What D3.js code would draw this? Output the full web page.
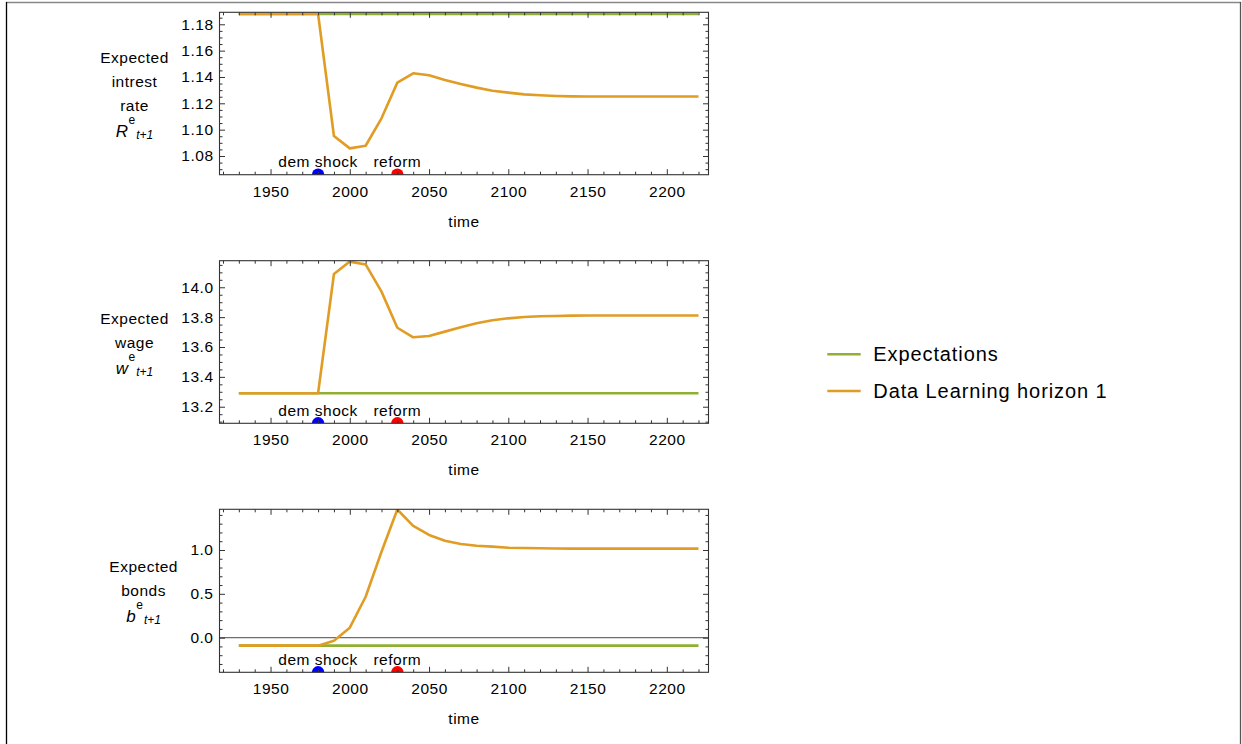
<!DOCTYPE html>
<html>
<head>
<meta charset="utf-8">
<script src="https://cdn.jsdelivr.net/npm/d3@7"></script>
<style>
  html, body { margin: 0; padding: 0; background: #fff; }
  svg { display: block; }
  text { font-family: "Liberation Sans", Arial, sans-serif; fill: #000; }
</style>
</head>
<body>
<script>
// Simulation periods (every 10 years)
const years = [1930, 1940, 1950, 1960, 1970, 1980, 1990, 2000, 2010, 2020,
               2030, 2040, 2050, 2060, 2070, 2080, 2090, 2100, 2110, 2120,
               2130, 2140, 2150, 2160, 2170, 2180, 2190, 2200, 2210, 2220];

// Expected interest rate R^e_{t+1}
const rateExpectations = [1.1878, 1.1878, 1.1878, 1.1878, 1.1878, 1.1878, 1.1878, 1.1878, 1.1878, 1.1878,
                          1.1878, 1.1878, 1.1878, 1.1878, 1.1878, 1.1878, 1.1878, 1.1878, 1.1878, 1.1878,
                          1.1878, 1.1878, 1.1878, 1.1878, 1.1878, 1.1878, 1.1878, 1.1878, 1.1878, 1.1878];
const rateLearning = [1.1878, 1.1878, 1.1878, 1.1878, 1.1878, 1.1878, 1.0952, 1.0858, 1.0878, 1.1086,
                      1.1357, 1.1428, 1.1413, 1.1377, 1.1347, 1.1319, 1.1296, 1.1281, 1.1268, 1.1261,
                      1.1256, 1.1253, 1.1252, 1.1252, 1.1252, 1.1252, 1.1252, 1.1252, 1.1252, 1.1252];

// Expected wage w^e_{t+1}
const wageExpectations = [13.29, 13.29, 13.29, 13.29, 13.29, 13.29, 13.29, 13.29, 13.29, 13.29,
                          13.29, 13.29, 13.29, 13.29, 13.29, 13.29, 13.29, 13.29, 13.29, 13.29,
                          13.29, 13.29, 13.29, 13.29, 13.29, 13.29, 13.29, 13.29, 13.29, 13.29];
const wageLearning = [13.29, 13.29, 13.29, 13.29, 13.29, 13.29, 14.089, 14.172, 14.153, 13.971,
                      13.729, 13.665, 13.674, 13.703, 13.732, 13.759, 13.779, 13.792, 13.801, 13.806,
                      13.808, 13.810, 13.811, 13.811, 13.811, 13.811, 13.811, 13.811, 13.811, 13.811];

// Expected bonds b^e_{t+1}
const bondsExpectations = [-0.091, -0.091, -0.091, -0.091, -0.091, -0.091, -0.091, -0.091, -0.091, -0.091,
                           -0.091, -0.091, -0.091, -0.091, -0.091, -0.091, -0.091, -0.091, -0.091, -0.091,
                           -0.091, -0.091, -0.091, -0.091, -0.091, -0.091, -0.091, -0.091, -0.091, -0.091];
const bondsLearning = [-0.091, -0.091, -0.091, -0.091, -0.091, -0.091, -0.034, 0.114, 0.467, 0.980,
                       1.462, 1.274, 1.171, 1.106, 1.068, 1.049, 1.038, 1.026, 1.022, 1.019,
                       1.017, 1.016, 1.015, 1.015, 1.015, 1.015, 1.015, 1.015, 1.015, 1.015];

// Time axis ticks
const xMajorTicks = [1950, 2000, 2050, 2100, 2150, 2200];
const xTickLabels = ["1950", "2000", "2050", "2100", "2150", "2200"];
const xMinorTicks = [1920, 1930, 1940, 1960, 1970, 1980, 1990, 2010, 2020, 2030, 2040,
                     2060, 2070, 2080, 2090, 2110, 2120, 2130, 2140, 2160, 2170, 2180, 2190, 2210, 2220];

// Value axis ticks per panel
const rateTicks = [1.08, 1.10, 1.12, 1.14, 1.16, 1.18];
const rateTickLabels = ["1.08", "1.10", "1.12", "1.14", "1.16", "1.18"];
const rateMinorTicks = [1.07, 1.075, 1.085, 1.09, 1.095, 1.105, 1.11, 1.115, 1.125, 1.13, 1.135,
                        1.145, 1.15, 1.155, 1.165, 1.17, 1.175, 1.185];
const wageTicks = [13.2, 13.4, 13.6, 13.8, 14.0];
const wageTickLabels = ["13.2", "13.4", "13.6", "13.8", "14.0"];
const wageMinorTicks = [13.1, 13.15, 13.25, 13.3, 13.35, 13.45, 13.5, 13.55, 13.65, 13.7, 13.75,
                        13.85, 13.9, 13.95, 14.05, 14.1, 14.15];
const bondsTicks = [0.0, 0.5, 1.0];
const bondsTickLabels = ["0.0", "0.5", "1.0"];
const bondsMinorTicks = [-0.3, -0.2, -0.1, 0.1, 0.2, 0.3, 0.4, 0.6, 0.7, 0.8, 0.9, 1.1, 1.2, 1.3, 1.4];

// Event markers
const eventYears = [1980, 2030];
const eventNames = ["dem shock", "reform"];
const eventColors = ["#0000ff", "#ff0000"];

// Legend
const seriesNames = ["Expectations", "Data Learning horizon 1"];
const seriesColors = ["#8fb032", "#e19c24"];

const W = 1242, H = 744;
const svg = d3.select("body").append("svg").attr("width", W).attr("height", H);
svg.append("rect").attr("width", W).attr("height", H).attr("fill", "#fff");

// outer frame
svg.append("line").attr("x1", 6).attr("x2", 1241).attr("y1", 2.5).attr("y2", 2.5)
  .attr("stroke", "#888").attr("stroke-width", 1.6);
svg.append("line").attr("x1", 6.5).attr("x2", 6.5).attr("y1", 2).attr("y2", H)
  .attr("stroke", "#000").attr("stroke-width", 1.3);
svg.append("line").attr("x1", 1240.5).attr("x2", 1240.5).attr("y1", 2).attr("y2", H)
  .attr("stroke", "#555").attr("stroke-width", 1.3);

const FS = "15.5px", LS = "0.5px";
const left = 219.5, right = 708.5;
const x = d3.scaleLinear().domain([1917.8, 2226.3]).range([left, right]);

const panels = [
  { top: 12.3, bottom: 174.7, domain: [1.0658, 1.1891], exp: rateExpectations, learn: rateLearning,
    ticks: rateTicks, labels: rateTickLabels, minor: rateMinorTicks,
    title: ["Expected", "intrest", "rate"], sym: "R", zero: false },
  { top: 260.7, bottom: 423.3, domain: [13.089, 14.178], exp: wageExpectations, learn: wageLearning,
    ticks: wageTicks, labels: wageTickLabels, minor: wageMinorTicks,
    title: ["Expected", "wage"], sym: "w", zero: false },
  { top: 509.3, bottom: 672.3, domain: [-0.395, 1.464], exp: bondsExpectations, learn: bondsLearning,
    ticks: bondsTicks, labels: bondsTickLabels, minor: bondsMinorTicks,
    title: ["Expected", "bonds"], sym: "b", zero: true }
];

function styleAxis(g) {
  g.select(".domain").remove();
  g.selectAll(".tick line").attr("stroke", "#333").attr("stroke-width", 1);
  g.selectAll(".tick text").attr("font-size", FS).attr("letter-spacing", LS)
    .attr("font-family", "Liberation Sans, Arial, sans-serif").attr("fill", "#000");
}

panels.forEach((p, i) => {
  const y = d3.scaleLinear().domain(p.domain).range([p.bottom, p.top]);
  const g = svg.append("g");
  const clipId = "clip" + i;
  svg.append("clipPath").attr("id", clipId).append("rect")
    .attr("x", left).attr("y", p.top).attr("width", right - left).attr("height", p.bottom - p.top);

  // zero reference line
  if (p.zero) {
    g.append("line").attr("x1", left).attr("x2", right).attr("y1", y(0)).attr("y2", y(0))
      .attr("stroke", "#6e6e6e").attr("stroke-width", 1.1);
  }

  const plot = g.append("g").attr("clip-path", `url(#${clipId})`);
  const line = d3.line().x((d, k) => x(years[k])).y(d => y(d));
  [p.exp, p.learn].forEach((s, k) => {
    plot.append("path").attr("d", line(s)).attr("fill", "none")
      .attr("stroke", seriesColors[k]).attr("stroke-width", 2.6)
      .attr("stroke-linejoin", "round");
  });

  // event markers sitting on the bottom frame
  eventYears.forEach((ey, k) => {
    plot.append("circle").attr("cx", x(ey)).attr("cy", p.bottom).attr("r", 6.2)
      .attr("fill", eventColors[k]);
    g.append("text").attr("x", x(ey)).attr("y", p.bottom - 7.5)
      .attr("text-anchor", "middle").attr("font-size", FS).attr("letter-spacing", LS)
      .text(eventNames[k]);
  });

  // axes: bottom (labelled), top/right mirrors, left (labelled), minor ticks
  const bottomMaj = d3.axisBottom(x).tickValues(xMajorTicks)
    .tickFormat((d, k) => xTickLabels[k]).tickSizeInner(-5.5).tickSizeOuter(0).tickPadding(11);
  g.append("g").attr("transform", `translate(0,${p.bottom})`).call(bottomMaj).call(styleAxis);
  g.append("g").attr("transform", `translate(0,${p.bottom})`)
    .call(d3.axisBottom(x).tickValues(xMinorTicks).tickFormat("").tickSizeInner(-3).tickSizeOuter(0))
    .call(styleAxis);
  g.append("g").attr("transform", `translate(0,${p.top})`)
    .call(d3.axisTop(x).tickValues(xMajorTicks).tickFormat("").tickSizeInner(-5.5).tickSizeOuter(0))
    .call(styleAxis);
  g.append("g").attr("transform", `translate(0,${p.top})`)
    .call(d3.axisTop(x).tickValues(xMinorTicks).tickFormat("").tickSizeInner(-3).tickSizeOuter(0))
    .call(styleAxis);

  const leftAxis = g.append("g").attr("transform", `translate(${left},0)`)
    .call(d3.axisLeft(y).tickValues(p.ticks).tickFormat((d, k) => p.labels[k])
      .tickSizeInner(-5.5).tickSizeOuter(0).tickPadding(6))
    .call(styleAxis);
  g.append("g").attr("transform", `translate(${left},0)`)
    .call(d3.axisLeft(y).tickValues(p.minor).tickFormat("").tickSizeInner(-3).tickSizeOuter(0))
    .call(styleAxis);
  g.append("g").attr("transform", `translate(${right},0)`)
    .call(d3.axisRight(y).tickValues(p.ticks).tickFormat("").tickSizeInner(-5.5).tickSizeOuter(0))
    .call(styleAxis);
  g.append("g").attr("transform", `translate(${right},0)`)
    .call(d3.axisRight(y).tickValues(p.minor).tickFormat("").tickSizeInner(-3).tickSizeOuter(0))
    .call(styleAxis);

  // frame
  g.append("rect").attr("x", left).attr("y", p.top).attr("width", right - left)
    .attr("height", p.bottom - p.top).attr("fill", "none").attr("stroke", "#333").attr("stroke-width", 1.1);

  // x title
  g.append("text").attr("x", (left + right) / 2).attr("y", p.bottom + 52)
    .attr("text-anchor", "middle").attr("font-size", FS).attr("letter-spacing", LS).text("time");

  // y title block: text lines plus the symbol line with super/subscript
  let minLabelX = Infinity;
  leftAxis.selectAll(".tick text").each(function () {
    const b = this.getBBox();
    minLabelX = Math.min(minLabelX, left + b.x);
  });
  const blockRight = minLabelX - 12.5;
  const nLines = p.title.length + 1;
  const center = (p.top + p.bottom) / 2 + 5.5;
  const spacing = 24;
  const tg = g.append("g");
  p.title.forEach((t, k) => {
    tg.append("text").attr("class", "ttl").attr("y", center + (k - (nLines - 1) / 2) * spacing)
      .attr("text-anchor", "middle").attr("font-size", FS).attr("letter-spacing", LS).text(t);
  });
  const symText = tg.append("text").attr("class", "ttl")
    .attr("y", center + (nLines - 1) / 2 * spacing + 2)
    .attr("text-anchor", "middle").attr("font-size", "17px");
  symText.append("tspan").attr("font-style", "italic").text(p.sym);
  symText.append("tspan").attr("font-size", "12px").attr("dy", -13).attr("dx", 0.5).text("e");
  symText.append("tspan").attr("font-size", "12px").attr("font-style", "italic")
    .attr("dy", 15).attr("dx", 1).text("t+1");
  let maxW = 0;
  tg.selectAll("text.ttl").each(function () { maxW = Math.max(maxW, this.getBBox().width); });
  tg.selectAll("text.ttl").attr("x", blockRight - maxW / 2);
});

// legend
const legend = svg.append("g");
seriesNames.forEach((name, k) => {
  const ly = 354.3 + k * 36.7;
  legend.append("line").attr("x1", 827.3).attr("x2", 860.7).attr("y1", ly).attr("y2", ly)
    .attr("stroke", seriesColors[k]).attr("stroke-width", 2.6);
  legend.append("text").attr("x", 873.3).attr("y", ly + 6.6)
    .attr("font-size", "20px").attr("letter-spacing", "0.9px").text(name);
});
</script>
</body>
</html>
